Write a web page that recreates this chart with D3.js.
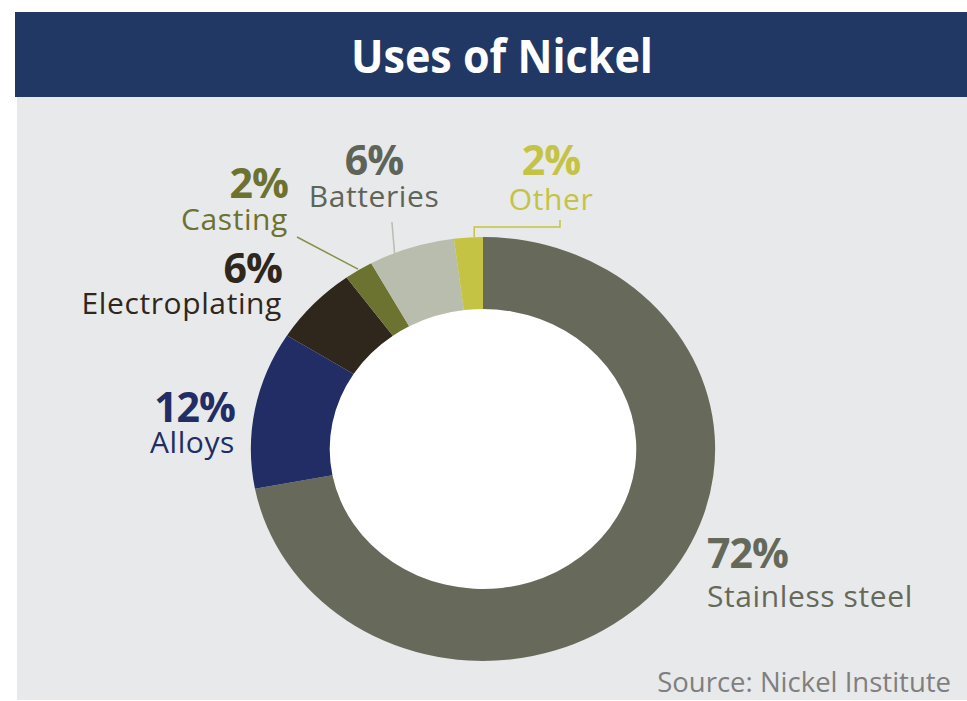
<!DOCTYPE html>
<html>
<head>
<meta charset="utf-8">
<script src="https://cdn.jsdelivr.net/npm/d3@7"></script>
<style>
  html, body { margin: 0; padding: 0; background: #ffffff; }
  svg { display: block; }
</style>
</head>
<body>
<svg id="chart" width="967" height="701"></svg>
<script>
// Nickel end uses, share of total consumption (%)
const categories = ["Stainless steel", "Alloys", "Electroplating", "Casting", "Batteries", "Other"];
const shares = [72, 12, 6, 2, 6, 2];
const shareLabels = ["72%", "12%", "6%", "2%", "6%", "2%"];
const sliceColors = ["#676a5a", "#212d64", "#2f271c", "#6c722f", "#b9bdae", "#c4c343"];
const labelColors = ["#656959", "#212d64", "#2f271c", "#6c722f", "#5f6459", "#c4c343"];

const title = "Uses of Nickel";
const source = "Source: Nickel Institute";

const svg = d3.select("#chart");
const W = 967, H = 701;

// background panel and title band
svg.append("rect").attr("x", 17).attr("y", 97).attr("width", W - 17).attr("height", 700 - 97)
  .attr("fill", "#e8e9eb");
svg.append("rect").attr("x", 15).attr("y", 12).attr("width", W - 15).attr("height", 85)
  .attr("fill", "#213864");
svg.append("text").text(title)
  .attr("x", 502).attr("y", 73)
  .attr("text-anchor", "middle")
  .attr("font-family", "'Open Sans', sans-serif")
  .attr("font-weight", 700)
  .attr("font-size", 47)
  .attr("textLength", 302)
  .attr("lengthAdjust", "spacingAndGlyphs")
  .attr("fill", "#ffffff");

// donut: drawn as a circle then widened horizontally
const cx = 483, cy = 449;
const rOuter = 212, rInner = 140, stretch = 1.095;

const pie = d3.pie().sort(null).value(d => d);
const arcs = pie(shares);
const arc = d3.arc().innerRadius(rInner).outerRadius(rOuter);

const donut = svg.append("g")
  .attr("transform", `translate(${cx},${cy}) scale(${stretch},1)`);
donut.append("ellipse").attr("rx", rInner).attr("ry", rInner).attr("fill", "#ffffff");
donut.selectAll("path.slice")
  .data(arcs)
  .join("path")
  .attr("class", "slice")
  .attr("d", arc)
  .attr("fill", (d, i) => sliceColors[i]);

// point on the outer rim at a given fraction through a slice
function rimPoint(i, frac, extra = 0) {
  const a = arcs[i].startAngle + (arcs[i].endAngle - arcs[i].startAngle) * frac;
  const r = rOuter + extra;
  return [cx + Math.sin(a) * r * stretch, cy - Math.cos(a) * r];
}

// label placement: anchor, x, baseline of percentage and of name
const layout = [
  { anchor: "start",  x: 707, yPct: 568, yName: 607 },
  { anchor: "end",    x: 235, yPct: 422, yName: 453 },
  { anchor: "end",    x: 282, yPct: 283, yName: 314 },
  { anchor: "end",    x: 288, yPct: 198, yName: 230 },
  { anchor: "middle", x: 374, yPct: 175, yName: 207 },
  { anchor: "middle", x: 551, yPct: 175, yName: 210 }
];

const labels = svg.append("g").attr("font-family", "'Open Sans', sans-serif");
categories.forEach((name, i) => {
  const L = layout[i];
  labels.append("text").text(shareLabels[i])
    .attr("x", L.x).attr("y", L.yPct)
    .attr("text-anchor", L.anchor)
    .attr("font-weight", 700).attr("font-size", 41)
    .attr("letter-spacing", -1)
    .attr("fill", labelColors[i]);
  labels.append("text").text(name)
    .attr("x", L.x).attr("y", L.yName)
    .attr("text-anchor", L.anchor)
    .attr("font-size", 30)
    .attr("letter-spacing", 0.6)
    .attr("fill", labelColors[i]);
});

// leader lines for the small slices
const leaders = svg.append("g").attr("fill", "none").attr("stroke-width", 1.5);
{
  const p = rimPoint(3, 0.5, 1);
  leaders.append("line").attr("x1", p[0]).attr("y1", p[1]).attr("x2", 297).attr("y2", 237)
    .attr("stroke", "#8a8f4c");
}
{
  const p = rimPoint(4, 0.28, -4);
  leaders.append("line").attr("x1", p[0]).attr("y1", p[1]).attr("x2", p[0] - 3).attr("y2", 222)
    .attr("stroke", "#b9bdae");
}
{
  const p = rimPoint(5, 0.7, 0);
  leaders.append("path")
    .attr("d", `M${p[0]},${p[1]} V227 H560 V220`)
    .attr("stroke", "#c4c343");
}

// source note
svg.append("text").text(source)
  .attr("x", 951).attr("y", 692)
  .attr("text-anchor", "end")
  .attr("font-family", "'Open Sans', sans-serif")
  .attr("font-size", 27.5)
  .attr("fill", "#7f7f7f");
</script>
</body>
</html>
